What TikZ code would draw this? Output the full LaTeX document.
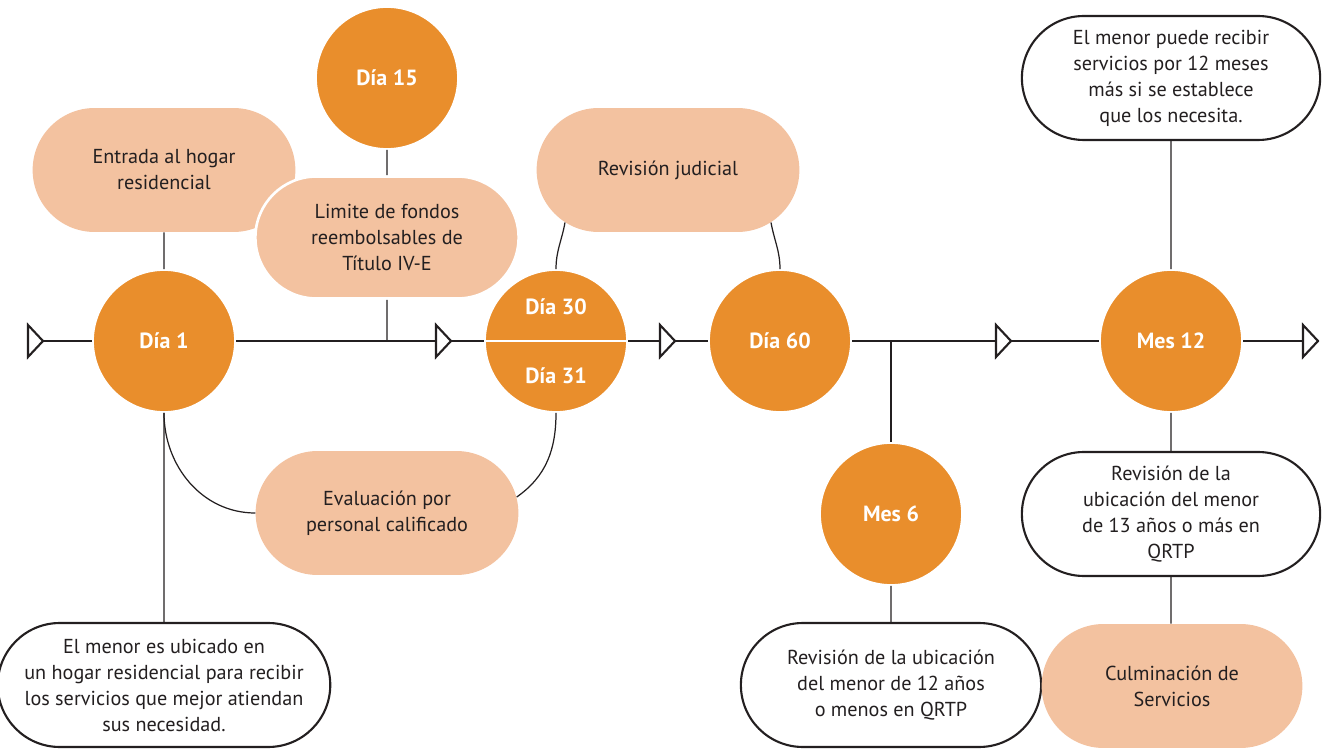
\documentclass[tikz,border=0pt]{standalone}
\usepackage{fontspec}
\setmainfont{PT Sans}
\usepackage{xcolor}
\usepackage{tikz}
\usetikzlibrary{shapes.misc}

\definecolor{naranja}{HTML}{E98E2C}
\definecolor{durazno}{HTML}{F3C2A0}
\definecolor{tinta}{HTML}{231F20}

\begin{document}
\begin{tikzpicture}[x=0.02cm,y=0.02cm,
  dia/.style={circle, fill=naranja, draw=white, line width=1pt, minimum size=2.84cm, inner sep=0pt,
    text=white, font=\fontsize{12.5}{15}\selectfont\bfseries},
  fase/.style={rounded rectangle, fill=durazno, minimum width=5.49cm, minimum height=2.48cm,
    align=center, text=tinta, font=\fontsize{11.5}{14.8}\selectfont},
  nota/.style={rounded rectangle, fill=white, draw=tinta, line width=1.2pt, minimum width=6.2cm,
    minimum height=2.48cm, align=center, text=tinta, font=\fontsize{11.5}{14.8}\selectfont},
  conn/.style={draw=tinta, line width=0.7pt},
  marca/.style={draw=tinta, fill=white, line width=1.2pt, line join=miter}]
\useasboundingbox (0,-749) rectangle (1328,0);
\draw[tinta, line width=1.2pt] (28,-341) -- (1319,-341);

\node[fase] (ent) at (164,-170) {Entrada al hogar\\residencial};
\node[fase, draw=white, line width=1.5pt, minimum width=5.5cm, minimum height=2.44cm] (lim) at (387,-237.5)
  {Limite de fondos\\reembolsables de\\Título IV-E};
\node[fase] (rj) at (668,-170) {Revisión judicial};
\node[fase] (ev) at (387,-513) {Evaluación por\\personal calificado};

\node[dia] (d1) at (164,-341) {Día 1};
\node[dia] (d15) at (387,-78) {Día 15};
\node[dia] (d30) at (556,-341) {};
\node[text=white, font=\fontsize{12.5}{15}\selectfont\bfseries] (t30) at (556,-307) {Día 30};
\node[text=white, font=\fontsize{12.5}{15}\selectfont\bfseries] (t31) at (556,-376) {Día 31};
\draw[white, line width=1.5pt] (d30.west) -- (d30.east);
\node[dia] (d60) at (780,-341) {Día 60};
\node[dia] (m6) at (891,-514) {Mes 6};
\node[dia] (m12) at (1171,-341) {Mes 12};

\node[nota] (ub) at (164,-685) {El menor es ubicado en\\un hogar residencial para recibir\\los servicios que mejor atiendan\\sus necesidad.};
\node[nota, minimum width=6.24cm] (r12) at (891,-685) {Revisión de la ubicación\\del menor de 12 años\\o menos en QRTP};
\node[nota] (ext) at (1171,-78) {El menor puede recibir\\servicios por 12 meses\\más si se establece\\que los necesita.};
\node[nota] (r13) at (1171,-514) {Revisión de la\\ubicación del menor\\de 13 años o más en\\QRTP};
\node[fase, minimum width=5.45cm] (cul) at (1172,-686) {Culminación de\\Servicios};

\coordinate (b15) at (lim.south |- d1.center);
\coordinate (b6) at (m6.north |- d60.center);
\draw[conn] (d1) -- (ent);
\draw[conn] (d1) -- (ub);
\draw[conn] (d15) -- (lim);
\draw[conn] (lim) -- (b15);
\draw[conn] (d1.south) to[out=-90,in=180] (ev.west);
\draw[conn] (d30.south) to[out=-90,in=35] (ev.7);
\draw[conn] (d30.north) to[out=90,in=-100] (rj.207);
\draw[conn] (d60.north) to[out=90,in=-80] (rj.-27);
\draw[conn] (b6) -- (m6);
\draw[conn] (m6) -- (r12);
\draw[conn] (m12) -- (ext);
\draw[conn] (m12) -- (r13);
\draw[conn] (r13) -- (cul.north -| r13.south);

\foreach \x in {28,436,660,996,1303}
  \draw[marca] (\x,-325) -- (\x+15,-341) -- (\x,-357) -- cycle;
\end{tikzpicture}
\end{document}
